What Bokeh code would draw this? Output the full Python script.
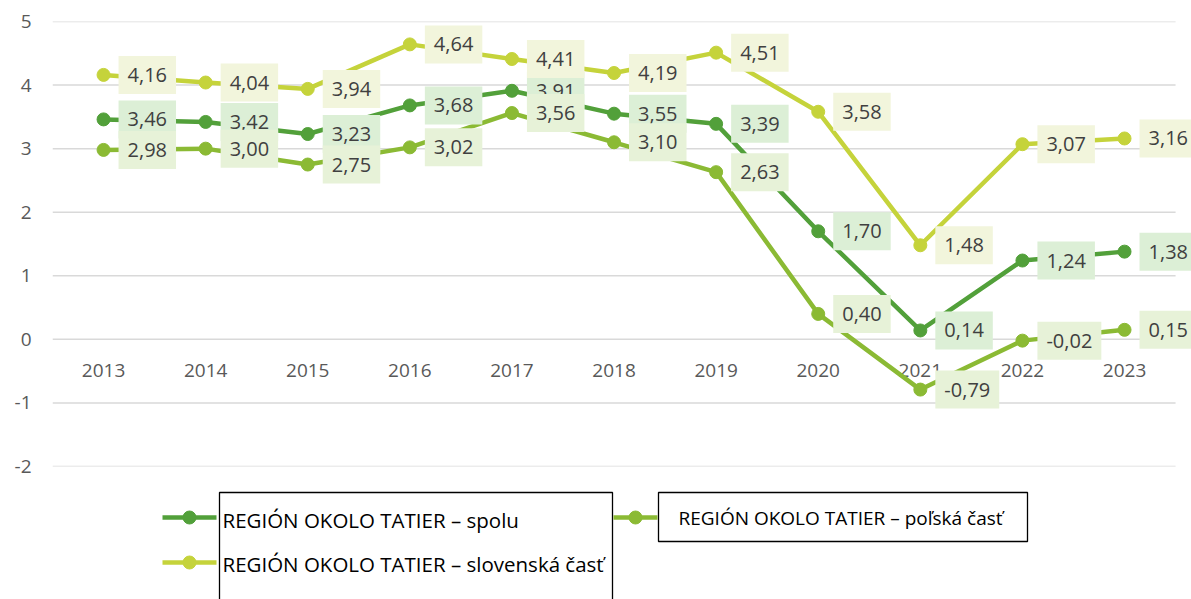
from bokeh.plotting import figure
from bokeh.models import Range1d, FixedTicker, ColumnDataSource
from bokeh.layouts import column
from bokeh.embed import file_html
from bokeh.resources import INLINE
from bokeh.core.properties import value

years = ["2013", "2014", "2015", "2016", "2017", "2018", "2019", "2020", "2021", "2022", "2023"]
spolu = [3.46, 3.42, 3.23, 3.68, 3.91, 3.55, 3.39, 1.70, 0.14, 1.24, 1.38]
polska = [2.98, 3.00, 2.75, 3.02, 3.56, 3.10, 2.63, 0.40, -0.79, -0.02, 0.15]
slovenska = [4.16, 4.04, 3.94, 4.64, 4.41, 4.19, 4.51, 3.58, 1.48, 3.07, 3.16]
y_ticks = [-2, -1, 0, 1, 2, 3, 4, 5]
y_tick_labels = ["-2", "-1", "0", "1", "2", "3", "4", "5"]

series_names = ["REGIÓN OKOLO TATIER – spolu",
                "REGIÓN OKOLO TATIER – poľská časť",
                "REGIÓN OKOLO TATIER – slovenská časť"]
line_colors = ["#52A03A", "#8BBA34", "#C5D33B"]
box_colors = ["#DCEFD6", "#E7F2D8", "#F2F5DC"]

FONT = "Open Sans"

xi = list(range(len(years)))
n = len(years)
# frame spans categories -0.5 .. n-0.5 plus room on the right for the last labels
p = figure(width=1191, height=478, x_range=Range1d(-0.5, n - 0.5 + 0.156), y_range=Range1d(-2, 5),
           output_backend="svg", toolbar_location=None,
           min_border_left=52, min_border_right=0, min_border_top=21, min_border_bottom=12)
p.outline_line_color = None
p.background_fill_color = "white"
p.border_fill_color = "white"
p.xaxis.visible = False
p.grid.visible = False
p.yaxis.ticker = FixedTicker(ticks=y_ticks)
p.yaxis.major_label_overrides = {t: l for t, l in zip(y_ticks, y_tick_labels)}
p.yaxis.axis_line_color = None
p.yaxis.major_tick_line_color = None
p.yaxis.minor_tick_line_color = None
p.yaxis.major_label_text_font = FONT
p.yaxis.major_label_text_font_size = "19px"
p.yaxis.major_label_text_color = "#595959"
p.yaxis.major_label_standoff = 15

# horizontal gridlines across the category span
p.segment(x0=[-0.5] * len(y_ticks), x1=[n - 0.5] * len(y_ticks), y0=y_ticks, y1=y_ticks,
          line_color="#D9D9D9", line_width=1.5)

# category labels along y=0
p.text(x=xi, y=[0] * n, text=years, text_font=value(FONT),
       text_font_size="19px", text_color="#595959", text_align="center",
       text_baseline="middle", y_offset=31)

all_vals = [spolu, polska, slovenska]
for vals, col in zip(all_vals, line_colors):
    p.line(x=xi, y=vals, line_color=col, line_width=4.5)
    p.scatter(x=xi, y=vals, size=13, fill_color=col, line_color=col)

for vals, bcol in zip(all_vals, box_colors):
    src = ColumnDataSource(dict(x=xi, y=vals,
                                t=[f"{v:.2f}".replace(".", ",") for v in vals]))
    p.text(x="x", y="y", text="t", source=src, text_font=value(FONT),
           text_font_size="20px", text_color="#404040", text_align="left",
           text_baseline="middle", x_offset=15, background_fill_color=bcol,
           padding=dict(left=9, right=9, top=12, bottom=12))

# legend figure (coordinates in picture pixel space)
lg = figure(width=1191, height=121, x_range=Range1d(52, 1191), y_range=Range1d(599, 478),
            output_backend="svg", toolbar_location=None,
            min_border_left=52, min_border_right=0, min_border_top=0, min_border_bottom=0)
lg.axis.visible = False
lg.grid.visible = False
lg.outline_line_color = None

lg.quad(left=[219], right=[612], top=[492], bottom=[610], fill_color=None,
        line_color="black", line_width=1.3)
lg.quad(left=[658], right=[1027], top=[492], bottom=[541], fill_color=None,
        line_color="black", line_width=1.3)

leg_lines = [(162, 216, 517), (613, 657, 517), (162, 216, 562)]
for (x0, x1, yy), col in zip(leg_lines, line_colors):
    lg.line(x=[x0, x1], y=[yy, yy], line_color=col, line_width=4.5)
    lg.scatter(x=[(x0 + x1) / 2], y=[yy], size=13, fill_color=col, line_color=col)

lg.text(x=[222], y=[519], text=[series_names[0]], text_font=value(FONT), text_font_size="20.5px",
        text_color="black", text_baseline="middle")
lg.text(x=[678], y=[517], text=[series_names[1]], text_font=value(FONT), text_font_size="19px",
        text_color="black", text_baseline="middle")
lg.text(x=[222], y=[563], text=[series_names[2]], text_font=value(FONT), text_font_size="20.5px",
        text_color="black", text_baseline="middle")

layout = column(p, lg, spacing=0)
open("out.html", "w").write(file_html(layout, INLINE))
